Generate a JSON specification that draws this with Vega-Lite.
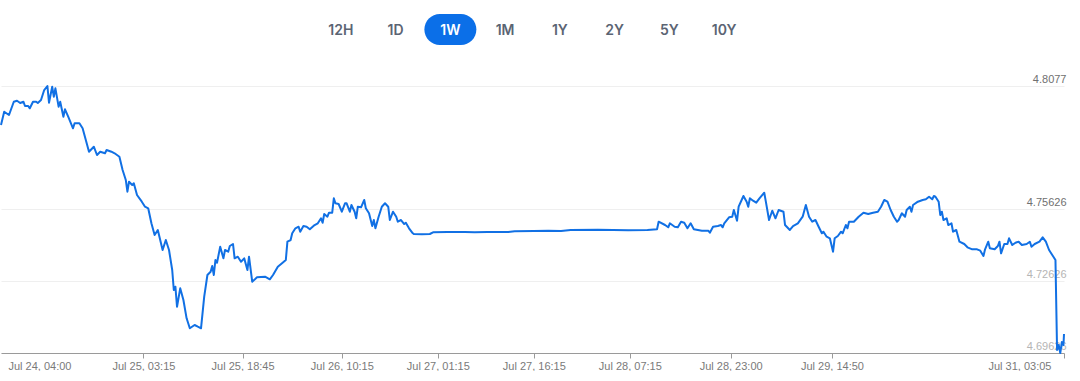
{
  "$schema": "https://vega.github.io/schema/vega-lite/v6.json",
  "background": "white",
  "padding": {"left": 0, "top": 14, "right": 14, "bottom": 0},
  "bounds": "flush",
  "center": true,
  "spacing": 41,
  "config": {"view": {"stroke": null}},
  "datasets": {
    "ranges": [
      {"label": "12H"}, {"label": "1D"}, {"label": "1W"}, {"label": "1M"},
      {"label": "1Y"}, {"label": "2Y"}, {"label": "5Y"}, {"label": "10Y"}
    ],
    "price": [
      {"t": "2024-07-24T05:00", "v": 4.79142},
      {"t": "2024-07-24T05:30", "v": 4.79697},
      {"t": "2024-07-24T06:15", "v": 4.79559},
      {"t": "2024-07-24T07:00", "v": 4.80114},
      {"t": "2024-07-24T07:30", "v": 4.80156},
      {"t": "2024-07-24T08:00", "v": 4.8006},
      {"t": "2024-07-24T08:30", "v": 4.80114},
      {"t": "2024-07-24T08:45", "v": 4.79935},
      {"t": "2024-07-24T09:15", "v": 4.79935},
      {"t": "2024-07-24T09:30", "v": 4.79839},
      {"t": "2024-07-24T10:00", "v": 4.80114},
      {"t": "2024-07-24T10:30", "v": 4.80114},
      {"t": "2024-07-24T10:45", "v": 4.8006},
      {"t": "2024-07-24T11:15", "v": 4.80185},
      {"t": "2024-07-24T11:45", "v": 4.80603},
      {"t": "2024-07-24T12:15", "v": 4.8077},
      {"t": "2024-07-24T12:30", "v": 4.80073},
      {"t": "2024-07-24T13:00", "v": 4.8074},
      {"t": "2024-07-24T13:15", "v": 4.80323},
      {"t": "2024-07-24T13:30", "v": 4.80673},
      {"t": "2024-07-24T14:00", "v": 4.79906},
      {"t": "2024-07-24T14:15", "v": 4.80114},
      {"t": "2024-07-24T14:45", "v": 4.79488},
      {"t": "2024-07-24T15:00", "v": 4.79797},
      {"t": "2024-07-24T15:30", "v": 4.79488},
      {"t": "2024-07-24T16:15", "v": 4.79004},
      {"t": "2024-07-24T16:30", "v": 4.79213},
      {"t": "2024-07-24T17:15", "v": 4.79213},
      {"t": "2024-07-24T17:45", "v": 4.79004},
      {"t": "2024-07-24T18:15", "v": 4.78516},
      {"t": "2024-07-24T18:45", "v": 4.78027},
      {"t": "2024-07-24T19:30", "v": 4.78236},
      {"t": "2024-07-24T20:00", "v": 4.7789},
      {"t": "2024-07-24T20:30", "v": 4.78027},
      {"t": "2024-07-24T21:15", "v": 4.77961},
      {"t": "2024-07-24T21:30", "v": 4.78098},
      {"t": "2024-07-24T22:15", "v": 4.78027},
      {"t": "2024-07-24T22:45", "v": 4.77961},
      {"t": "2024-07-24T23:30", "v": 4.77819},
      {"t": "2024-07-25T00:00", "v": 4.77264},
      {"t": "2024-07-25T00:30", "v": 4.76846},
      {"t": "2024-07-25T00:45", "v": 4.76358},
      {"t": "2024-07-25T01:00", "v": 4.76775},
      {"t": "2024-07-25T01:30", "v": 4.76638},
      {"t": "2024-07-25T01:45", "v": 4.76709},
      {"t": "2024-07-25T02:15", "v": 4.7622},
      {"t": "2024-07-25T03:00", "v": 4.75941},
      {"t": "2024-07-25T03:30", "v": 4.75732},
      {"t": "2024-07-25T04:00", "v": 4.75665},
      {"t": "2024-07-25T04:30", "v": 4.75039},
      {"t": "2024-07-25T05:00", "v": 4.74551},
      {"t": "2024-07-25T05:30", "v": 4.7476},
      {"t": "2024-07-25T06:15", "v": 4.73925},
      {"t": "2024-07-25T06:45", "v": 4.74342},
      {"t": "2024-07-25T07:15", "v": 4.73925},
      {"t": "2024-07-25T07:45", "v": 4.7309},
      {"t": "2024-07-25T08:00", "v": 4.72255},
      {"t": "2024-07-25T08:15", "v": 4.72393},
      {"t": "2024-07-25T08:30", "v": 4.71558},
      {"t": "2024-07-25T09:00", "v": 4.72326},
      {"t": "2024-07-25T09:30", "v": 4.71838},
      {"t": "2024-07-25T10:00", "v": 4.71074},
      {"t": "2024-07-25T10:30", "v": 4.70657},
      {"t": "2024-07-25T11:15", "v": 4.70795},
      {"t": "2024-07-25T11:45", "v": 4.70724},
      {"t": "2024-07-25T12:15", "v": 4.70657},
      {"t": "2024-07-25T12:45", "v": 4.71976},
      {"t": "2024-07-25T13:15", "v": 4.72881},
      {"t": "2024-07-25T13:45", "v": 4.73019},
      {"t": "2024-07-25T14:00", "v": 4.73257},
      {"t": "2024-07-25T14:15", "v": 4.72881},
      {"t": "2024-07-25T14:30", "v": 4.73507},
      {"t": "2024-07-25T14:45", "v": 4.73395},
      {"t": "2024-07-25T15:15", "v": 4.74063},
      {"t": "2024-07-25T15:45", "v": 4.73578},
      {"t": "2024-07-25T16:00", "v": 4.73925},
      {"t": "2024-07-25T16:30", "v": 4.73854},
      {"t": "2024-07-25T16:45", "v": 4.74092},
      {"t": "2024-07-25T17:15", "v": 4.74175},
      {"t": "2024-07-25T17:30", "v": 4.73578},
      {"t": "2024-07-25T18:00", "v": 4.73645},
      {"t": "2024-07-25T18:30", "v": 4.73436},
      {"t": "2024-07-25T19:00", "v": 4.73578},
      {"t": "2024-07-25T19:30", "v": 4.7309},
      {"t": "2024-07-25T19:45", "v": 4.73645},
      {"t": "2024-07-25T20:15", "v": 4.72602},
      {"t": "2024-07-25T21:00", "v": 4.72785},
      {"t": "2024-07-25T22:15", "v": 4.7281},
      {"t": "2024-07-25T23:00", "v": 4.72702},
      {"t": "2024-07-25T23:30", "v": 4.72881},
      {"t": "2024-07-26T00:15", "v": 4.73228},
      {"t": "2024-07-26T01:00", "v": 4.73395},
      {"t": "2024-07-26T01:30", "v": 4.73507},
      {"t": "2024-07-26T01:45", "v": 4.74271},
      {"t": "2024-07-26T02:15", "v": 4.74342},
      {"t": "2024-07-26T02:30", "v": 4.74622},
      {"t": "2024-07-26T03:00", "v": 4.7483},
      {"t": "2024-07-26T03:30", "v": 4.74897},
      {"t": "2024-07-26T03:45", "v": 4.74689},
      {"t": "2024-07-26T04:15", "v": 4.74926},
      {"t": "2024-07-26T04:45", "v": 4.74897},
      {"t": "2024-07-26T05:15", "v": 4.74789},
      {"t": "2024-07-26T06:00", "v": 4.74968},
      {"t": "2024-07-26T06:30", "v": 4.75039},
      {"t": "2024-07-26T07:00", "v": 4.75248},
      {"t": "2024-07-26T07:15", "v": 4.75064},
      {"t": "2024-07-26T07:30", "v": 4.75427},
      {"t": "2024-07-26T08:00", "v": 4.75315},
      {"t": "2024-07-26T08:15", "v": 4.75482},
      {"t": "2024-07-26T08:45", "v": 4.75482},
      {"t": "2024-07-26T09:00", "v": 4.76082},
      {"t": "2024-07-26T09:15", "v": 4.75874},
      {"t": "2024-07-26T09:45", "v": 4.75845},
      {"t": "2024-07-26T10:15", "v": 4.75523},
      {"t": "2024-07-26T10:45", "v": 4.75874},
      {"t": "2024-07-26T11:00", "v": 4.75874},
      {"t": "2024-07-26T11:30", "v": 4.75523},
      {"t": "2024-07-26T11:45", "v": 4.75803},
      {"t": "2024-07-26T12:15", "v": 4.75523},
      {"t": "2024-07-26T12:30", "v": 4.75248},
      {"t": "2024-07-26T12:45", "v": 4.75732},
      {"t": "2024-07-26T13:15", "v": 4.75707},
      {"t": "2024-07-26T13:45", "v": 4.76012},
      {"t": "2024-07-26T14:00", "v": 4.75665},
      {"t": "2024-07-26T14:30", "v": 4.75457},
      {"t": "2024-07-26T15:00", "v": 4.74926},
      {"t": "2024-07-26T15:15", "v": 4.75177},
      {"t": "2024-07-26T15:30", "v": 4.7483},
      {"t": "2024-07-26T16:00", "v": 4.75315},
      {"t": "2024-07-26T16:30", "v": 4.75732},
      {"t": "2024-07-26T17:00", "v": 4.75874},
      {"t": "2024-07-26T17:30", "v": 4.75732},
      {"t": "2024-07-26T17:45", "v": 4.75177},
      {"t": "2024-07-26T18:15", "v": 4.75523},
      {"t": "2024-07-26T18:45", "v": 4.75315},
      {"t": "2024-07-26T19:00", "v": 4.75106},
      {"t": "2024-07-26T19:30", "v": 4.75177},
      {"t": "2024-07-26T20:00", "v": 4.7501},
      {"t": "2024-07-26T20:15", "v": 4.75064},
      {"t": "2024-07-26T20:45", "v": 4.7483},
      {"t": "2024-07-26T21:15", "v": 4.74647},
      {"t": "2024-07-26T21:30", "v": 4.74593},
      {"t": "2024-07-26T22:45", "v": 4.7458},
      {"t": "2024-07-27T00:00", "v": 4.74593},
      {"t": "2024-07-27T00:30", "v": 4.74664},
      {"t": "2024-07-27T02:45", "v": 4.74676},
      {"t": "2024-07-27T05:30", "v": 4.74676},
      {"t": "2024-07-27T07:00", "v": 4.74664},
      {"t": "2024-07-27T09:00", "v": 4.74676},
      {"t": "2024-07-27T12:15", "v": 4.74676},
      {"t": "2024-07-27T13:15", "v": 4.74705},
      {"t": "2024-07-27T16:15", "v": 4.74718},
      {"t": "2024-07-27T18:30", "v": 4.7473},
      {"t": "2024-07-27T20:30", "v": 4.74718},
      {"t": "2024-07-27T22:00", "v": 4.7476},
      {"t": "2024-07-28T02:15", "v": 4.74772},
      {"t": "2024-07-28T07:00", "v": 4.74747},
      {"t": "2024-07-28T10:00", "v": 4.7476},
      {"t": "2024-07-28T11:30", "v": 4.74789},
      {"t": "2024-07-28T11:45", "v": 4.75106},
      {"t": "2024-07-28T12:45", "v": 4.74968},
      {"t": "2024-07-28T13:15", "v": 4.74872},
      {"t": "2024-07-28T13:30", "v": 4.75039},
      {"t": "2024-07-28T14:15", "v": 4.74897},
      {"t": "2024-07-28T14:45", "v": 4.74872},
      {"t": "2024-07-28T15:15", "v": 4.75106},
      {"t": "2024-07-28T15:45", "v": 4.75064},
      {"t": "2024-07-28T16:15", "v": 4.7483},
      {"t": "2024-07-28T16:45", "v": 4.75039},
      {"t": "2024-07-28T17:15", "v": 4.74789},
      {"t": "2024-07-28T18:30", "v": 4.7473},
      {"t": "2024-07-28T19:30", "v": 4.7473},
      {"t": "2024-07-28T19:45", "v": 4.74647},
      {"t": "2024-07-28T20:15", "v": 4.74897},
      {"t": "2024-07-28T21:00", "v": 4.74926},
      {"t": "2024-07-28T21:30", "v": 4.74968},
      {"t": "2024-07-28T21:45", "v": 4.74872},
      {"t": "2024-07-28T22:00", "v": 4.75039},
      {"t": "2024-07-28T22:45", "v": 4.7529},
      {"t": "2024-07-28T23:15", "v": 4.75315},
      {"t": "2024-07-28T23:30", "v": 4.75594},
      {"t": "2024-07-29T00:00", "v": 4.75148},
      {"t": "2024-07-29T00:15", "v": 4.75732},
      {"t": "2024-07-29T01:00", "v": 4.76179},
      {"t": "2024-07-29T01:30", "v": 4.75941},
      {"t": "2024-07-29T01:45", "v": 4.75732},
      {"t": "2024-07-29T02:00", "v": 4.76082},
      {"t": "2024-07-29T02:30", "v": 4.75982},
      {"t": "2024-07-29T03:00", "v": 4.75899},
      {"t": "2024-07-29T03:30", "v": 4.76082},
      {"t": "2024-07-29T04:15", "v": 4.76316},
      {"t": "2024-07-29T04:30", "v": 4.75941},
      {"t": "2024-07-29T05:00", "v": 4.75177},
      {"t": "2024-07-29T05:30", "v": 4.75565},
      {"t": "2024-07-29T06:00", "v": 4.75248},
      {"t": "2024-07-29T06:30", "v": 4.75594},
      {"t": "2024-07-29T07:15", "v": 4.75523},
      {"t": "2024-07-29T07:30", "v": 4.74968},
      {"t": "2024-07-29T08:15", "v": 4.7476},
      {"t": "2024-07-29T08:45", "v": 4.74926},
      {"t": "2024-07-29T09:30", "v": 4.75039},
      {"t": "2024-07-29T10:15", "v": 4.75315},
      {"t": "2024-07-29T10:45", "v": 4.75803},
      {"t": "2024-07-29T11:15", "v": 4.75315},
      {"t": "2024-07-29T11:45", "v": 4.75106},
      {"t": "2024-07-29T12:15", "v": 4.75177},
      {"t": "2024-07-29T12:45", "v": 4.74897},
      {"t": "2024-07-29T13:15", "v": 4.74622},
      {"t": "2024-07-29T13:30", "v": 4.74689},
      {"t": "2024-07-29T14:00", "v": 4.7448},
      {"t": "2024-07-29T14:30", "v": 4.74413},
      {"t": "2024-07-29T15:00", "v": 4.73854},
      {"t": "2024-07-29T15:15", "v": 4.74413},
      {"t": "2024-07-29T15:45", "v": 4.74509},
      {"t": "2024-07-29T16:15", "v": 4.74689},
      {"t": "2024-07-29T16:30", "v": 4.74622},
      {"t": "2024-07-29T17:00", "v": 4.74968},
      {"t": "2024-07-29T17:15", "v": 4.7483},
      {"t": "2024-07-29T17:30", "v": 4.75106},
      {"t": "2024-07-29T18:15", "v": 4.75106},
      {"t": "2024-07-29T19:00", "v": 4.75315},
      {"t": "2024-07-29T19:45", "v": 4.75482},
      {"t": "2024-07-29T20:30", "v": 4.75427},
      {"t": "2024-07-29T21:15", "v": 4.75482},
      {"t": "2024-07-29T22:00", "v": 4.75523},
      {"t": "2024-07-29T22:30", "v": 4.75732},
      {"t": "2024-07-29T23:00", "v": 4.76012},
      {"t": "2024-07-29T23:30", "v": 4.75941},
      {"t": "2024-07-30T00:00", "v": 4.75594},
      {"t": "2024-07-30T00:30", "v": 4.75315},
      {"t": "2024-07-30T01:00", "v": 4.75106},
      {"t": "2024-07-30T01:15", "v": 4.75177},
      {"t": "2024-07-30T01:45", "v": 4.75457},
      {"t": "2024-07-30T02:15", "v": 4.75315},
      {"t": "2024-07-30T02:30", "v": 4.75594},
      {"t": "2024-07-30T03:00", "v": 4.75732},
      {"t": "2024-07-30T03:15", "v": 4.75523},
      {"t": "2024-07-30T03:30", "v": 4.75803},
      {"t": "2024-07-30T04:15", "v": 4.75941},
      {"t": "2024-07-30T05:00", "v": 4.76012},
      {"t": "2024-07-30T05:30", "v": 4.76041},
      {"t": "2024-07-30T06:00", "v": 4.76149},
      {"t": "2024-07-30T06:30", "v": 4.76041},
      {"t": "2024-07-30T06:45", "v": 4.76179},
      {"t": "2024-07-30T07:00", "v": 4.76149},
      {"t": "2024-07-30T07:30", "v": 4.75941},
      {"t": "2024-07-30T07:45", "v": 4.75386},
      {"t": "2024-07-30T08:00", "v": 4.75523},
      {"t": "2024-07-30T08:15", "v": 4.75177},
      {"t": "2024-07-30T08:45", "v": 4.75248},
      {"t": "2024-07-30T09:00", "v": 4.74968},
      {"t": "2024-07-30T09:30", "v": 4.75039},
      {"t": "2024-07-30T09:45", "v": 4.74689},
      {"t": "2024-07-30T10:15", "v": 4.7476},
      {"t": "2024-07-30T10:45", "v": 4.74271},
      {"t": "2024-07-30T11:30", "v": 4.74175},
      {"t": "2024-07-30T12:00", "v": 4.74037},
      {"t": "2024-07-30T12:45", "v": 4.73954},
      {"t": "2024-07-30T13:30", "v": 4.73954},
      {"t": "2024-07-30T14:00", "v": 4.73896},
      {"t": "2024-07-30T14:30", "v": 4.73674},
      {"t": "2024-07-30T14:45", "v": 4.73954},
      {"t": "2024-07-30T15:15", "v": 4.74271},
      {"t": "2024-07-30T15:30", "v": 4.73996},
      {"t": "2024-07-30T16:15", "v": 4.73954},
      {"t": "2024-07-30T16:45", "v": 4.74092},
      {"t": "2024-07-30T17:00", "v": 4.74271},
      {"t": "2024-07-30T17:15", "v": 4.73787},
      {"t": "2024-07-30T17:45", "v": 4.74175},
      {"t": "2024-07-30T18:15", "v": 4.74175},
      {"t": "2024-07-30T18:30", "v": 4.74413},
      {"t": "2024-07-30T19:00", "v": 4.74134},
      {"t": "2024-07-30T19:30", "v": 4.74229},
      {"t": "2024-07-30T20:00", "v": 4.74271},
      {"t": "2024-07-30T20:30", "v": 4.74134},
      {"t": "2024-07-30T21:15", "v": 4.74175},
      {"t": "2024-07-30T21:45", "v": 4.74271},
      {"t": "2024-07-30T22:00", "v": 4.74063},
      {"t": "2024-07-30T22:30", "v": 4.74175},
      {"t": "2024-07-30T23:15", "v": 4.74271},
      {"t": "2024-07-30T23:45", "v": 4.74455},
      {"t": "2024-07-31T00:15", "v": 4.74271},
      {"t": "2024-07-31T00:45", "v": 4.73925},
      {"t": "2024-07-31T01:15", "v": 4.73716},
      {"t": "2024-07-31T01:45", "v": 4.73507},
      {"t": "2024-07-31T02:00", "v": 4.69751},
      {"t": "2024-07-31T02:15", "v": 4.6996},
      {"t": "2024-07-31T02:30", "v": 4.69626},
      {"t": "2024-07-31T02:45", "v": 4.70085},
      {"t": "2024-07-31T03:00", "v": 4.6996},
      {"t": "2024-07-31T03:05", "v": 4.70419}
    ]
  },
  "vconcat": [
    {
      "width": 438,
      "height": 31,
      "data": {"name": "ranges"},
      "encoding": {
        "x": {
          "field": "label",
          "type": "nominal",
          "scale": {
            "type": "band",
            "domain": ["12H", "1D", "1W", "1M", "1Y", "2Y", "5Y", "10Y"],
            "paddingInner": 0,
            "paddingOuter": 0
          },
          "axis": null
        }
      },
      "layer": [
        {
          "transform": [{"filter": "datum.label === '1W'"}],
          "mark": {"type": "bar", "width": {"band": 0.95}, "cornerRadius": 15.5, "color": "#0b6fe8"}
        },
        {
          "mark": {"type": "text", "font": "Inter", "fontSize": 14, "fontWeight": 600, "baseline": "middle", "dy": 1},
          "encoding": {
            "text": {"field": "label"},
            "color": {
              "condition": {"test": "datum.label === '1W'", "value": "#ffffff"},
              "value": "#5b6473"
            }
          }
        }
      ]
    },
    {
      "width": 1063,
      "height": 267,
      "data": {"name": "price"},
      "mark": {"type": "line", "color": "#1170e4", "strokeWidth": 2, "strokeJoin": "round"},
      "encoding": {
        "x": {
          "field": "t",
          "type": "temporal",
          "scale": {
            "domain": [
              {"year": 2024, "month": 7, "date": 24, "hours": 5, "minutes": 0},
              {"year": 2024, "month": 7, "date": 31, "hours": 3, "minutes": 5}
            ]
          },
          "axis": {
            "title": null,
            "grid": false,
            "values": [
              {"year": 2024, "month": 7, "date": 24, "hours": 5, "minutes": 0},
              {"year": 2024, "month": 7, "date": 25, "hours": 3, "minutes": 15},
              {"year": 2024, "month": 7, "date": 25, "hours": 18, "minutes": 45},
              {"year": 2024, "month": 7, "date": 26, "hours": 10, "minutes": 15},
              {"year": 2024, "month": 7, "date": 27, "hours": 1, "minutes": 15},
              {"year": 2024, "month": 7, "date": 27, "hours": 16, "minutes": 15},
              {"year": 2024, "month": 7, "date": 28, "hours": 7, "minutes": 15},
              {"year": 2024, "month": 7, "date": 28, "hours": 23, "minutes": 0},
              {"year": 2024, "month": 7, "date": 29, "hours": 14, "minutes": 50},
              {"year": 2024, "month": 7, "date": 31, "hours": 3, "minutes": 5}
            ],
            "labelExpr": "datum.index == 0 ? 'Jul 24, 04:00' : timeFormat(datum.value, '%b %d, %H:%M')",
            "domainColor": "#9a9a9a",
            "tickColor": {"condition": {"test": "datum.index == 0", "value": "rgba(0,0,0,0)"}, "value": "#9a9a9a"},
            "tickSize": 5,
            "labelFont": "Liberation Sans",
            "labelFontSize": 11,
            "labelColor": "#7a7a7a",
            "labelPadding": 2,
            "labelFlush": true,
            "labelFlushOffset": -7,
            "labelOffset": {"condition": {"test": "datum.index == 1", "value": -6}, "value": 0},
            "labelOverlap": false
          }
        },
        "y": {
          "field": "v",
          "type": "quantitative",
          "scale": {"domain": [4.69626, 4.8077], "nice": false, "zero": false},
          "axis": {
            "title": null,
            "orient": "right",
            "values": [4.69626, 4.72626, 4.75626, 4.8077],
            "format": ".6~g",
            "domain": false,
            "ticks": false,
            "tickSize": 0,
            "grid": true,
            "gridColor": "#efefef",
            "labelAlign": "right",
            "labelBaseline": "alphabetic",
            "labelPadding": 2,
            "labelOffset": -4,
            "labelFont": "Liberation Sans",
            "labelFontSize": 11,
            "labelColor": {"condition": {"test": "datum.value < 4.74", "value": "#b5b5b5"}, "value": "#707070"},
            "labelOverlap": false,
            "labelBound": false
          }
        }
      }
    }
  ]
}
